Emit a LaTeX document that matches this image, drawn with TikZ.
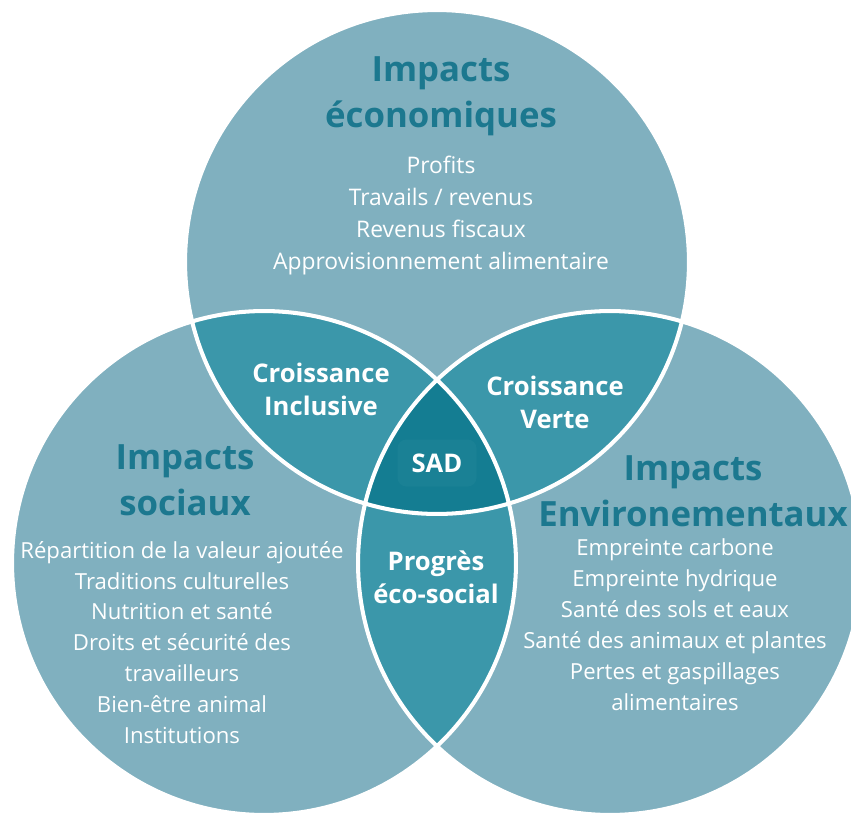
\documentclass[tikz,border=0pt]{standalone}
\usepackage{fontspec}
\setmainfont{Open Sans}
\usepackage{tikz}
\usetikzlibrary{positioning}
\definecolor{lightteal}{HTML}{80B0BF}
\definecolor{midteal}{HTML}{3B97AA}
\definecolor{deepteal}{HTML}{147D92}
\definecolor{sadbox}{HTML}{1A8195}
\definecolor{headteal}{HTML}{1C788F}
\newcommand{\vennr}{5.04cm}
\tikzset{
  headtext/.style={font=\fontsize{19.8}{26}\selectfont\bfseries, text=headteal,
    align=center, inner sep=0pt},
  listtext/.style={font=\fontsize{12.6}{17.6}\selectfont, text=white,
    align=center, inner sep=0pt},
  lenstext/.style={font=\fontsize{14.6}{18.7}\selectfont\bfseries, text=white,
    align=center, inner sep=0pt},
  ring/.style={draw=white, line width=2.3pt}
}

\begin{document}
\begin{tikzpicture}[x=0.02cm, y=-0.02cm]
\useasboundingbox (0,0) rectangle (851,814);
\coordinate (eco) at (437,262);
\coordinate (soc) at (264,563);
\coordinate (env) at (610,563);

% the three discs
\fill[lightteal] (eco) circle (\vennr) (soc) circle (\vennr) (env) circle (\vennr);
% two-way overlaps
\begin{scope}
  \clip (eco) circle (\vennr);
  \fill[midteal] (soc) circle (\vennr) (env) circle (\vennr);
\end{scope}
\begin{scope}
  \clip (soc) circle (\vennr);
  \fill[midteal] (env) circle (\vennr);
\end{scope}
% centre
\begin{scope}
  \clip (eco) circle (\vennr);
  \clip (soc) circle (\vennr);
  \fill[deepteal] (env) circle (\vennr);
\end{scope}
\draw[ring] (eco) circle (\vennr) (soc) circle (\vennr) (env) circle (\vennr);

% economic disc
\node[headtext] (ecohead) at (441,96) {Impacts\\économiques};
\node[listtext, font=\fontsize{13}{18.2}\selectfont, below=0.4cm of ecohead] (ecolist)
  {Profits\\Travails / revenus\\Revenus fiscaux\\Approvisionnement alimentaire};

% social disc
\node[headtext] (sochead) at (185,480) {Impacts\\sociaux};
\node[listtext, below=0.5cm of sochead, xshift=-0.06cm] (soclist)
  {Répartition de la valeur ajoutée\\Traditions culturelles\\Nutrition et santé\\
   Droits et sécurité des\\travailleurs\\Bien-être animal\\Institutions};

% environmental disc
\node[headtext] (envhead) at (693,491) {Impacts\\Environementaux};
\node[listtext, below=0.24cm of envhead, xshift=-0.36cm] (envlist)
  {Empreinte carbone\\Empreinte hydrique\\Santé des sols et eaux\\
   Santé des animaux et plantes\\Pertes et gaspillages\\alimentaires};

% overlaps
\node[lenstext] (inclusive) at (321,389) {Croissance\\Inclusive};
\node[lenstext] (verte) at (555,402) {Croissance\\Verte};
\node[lenstext] (progres) at (436,577) {Progrès\\éco-social};
\node[lenstext, fill=sadbox, rounded corners=5pt, minimum width=1.58cm,
  minimum height=0.94cm] (sad) at (437,463) {SAD};
\end{tikzpicture}
\end{document}
